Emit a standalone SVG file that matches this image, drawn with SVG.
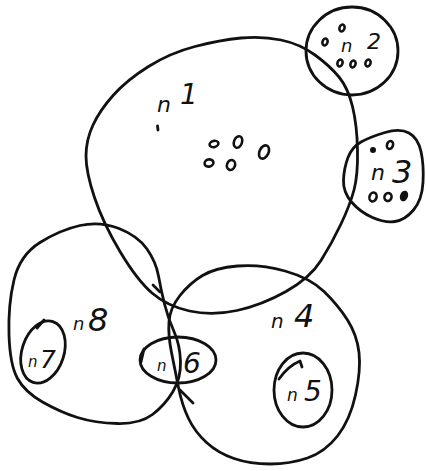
<svg xmlns="http://www.w3.org/2000/svg" width="426" height="471" viewBox="0 0 426 471">
<style>
.ln{fill:none;stroke:#111;stroke-width:2.8;stroke-linecap:round;stroke-linejoin:round}
.o{fill:none;stroke:#111;stroke-width:2.6}
.f{fill:#111;stroke:#111;stroke-width:2}
.t{font-family:"DejaVu Sans",sans-serif;fill:#111;font-style:italic}
</style>
<rect width="426" height="471" fill="#fff"/>
<g id="n1">
<path class="ln" d="M241,38 Q262,36 281,40 Q300,44 315,55 Q330,66 339,77 Q348,88 352.5,106.5 Q357,125 357.5,150 Q358,175 354,190 Q350,205 341,224 Q332,243 321,260.5 Q310,278 286,291.5 Q262,305 237,310.5 Q212,316 189.5,311 Q167,306 152,293 Q137,280 120,251.5 Q103,223 94.5,197.5 Q86,172 86,156 Q86,140 93,125 Q100,110 113.5,95 Q127,80 148.5,66.5 Q170,53 195,46.5 Q220,40 241,38 Z"/>
<text class="t"><tspan x="157" y="112" font-size="22">n</tspan><tspan x="180" y="104" font-size="28">1</tspan></text>
<ellipse class="o" cx="214" cy="144" rx="4.5" ry="3" transform="rotate(-15 214 144)"/>
<ellipse class="o" cx="238" cy="142" rx="4" ry="6" transform="rotate(20 238 142)"/>
<ellipse class="o" cx="209" cy="163" rx="4.5" ry="3.5" transform="rotate(-15 209 163)"/>
<ellipse class="o" cx="231" cy="165" rx="4" ry="5" transform="rotate(20 231 165)"/>
<ellipse class="o" cx="264" cy="152" rx="4.5" ry="7" transform="rotate(25 264 152)"/>
<path class="ln" d="M157.5,126 L158,130"/>
</g>
<g id="n2">
<ellipse class="ln" cx="352" cy="51" rx="46" ry="44"/>
<text class="t"><tspan x="341" y="52" font-size="18">n</tspan><tspan x="367" y="49" font-size="22">2</tspan></text>
<ellipse class="o" cx="325" cy="42" rx="2.5" ry="3.5" transform="rotate(20 325 42)"/>
<ellipse class="o" cx="342" cy="28" rx="2.5" ry="3.5" transform="rotate(20 342 28)"/>
<ellipse class="o" cx="340" cy="63" rx="2.5" ry="3.5" transform="rotate(20 340 63)"/>
<ellipse class="o" cx="353" cy="64" rx="2.5" ry="3.5" transform="rotate(20 353 64)"/>
<ellipse class="o" cx="368" cy="63" rx="2.5" ry="3.5" transform="rotate(20 368 63)"/>
</g>
<g id="n3">
<path class="ln" d="M385,132.5 Q400,128 409,133 Q418,138 421,151.5 Q424,165 423,182.5 Q422,200 413.5,210 Q405,220 395,221.5 Q385,223 372.5,217.5 Q360,212 351.5,202 Q343,192 343.5,180 Q344,168 348,157.5 Q352,147 361,142 Q370,137 385,132.5 Z"/>
<text class="t"><tspan x="371" y="180" font-size="22">n</tspan><tspan x="392" y="183" font-size="32">3</tspan></text>
<circle class="f" cx="373" cy="150" r="2"/>
<ellipse class="o" cx="390" cy="145" rx="3" ry="4" transform="rotate(20 390 145)"/>
<ellipse class="o" cx="373" cy="197" rx="3.5" ry="4.5" transform="rotate(20 373 197)"/>
<ellipse class="o" cx="388" cy="197" rx="3.5" ry="4" transform="rotate(20 388 197)"/>
<ellipse class="f" cx="404" cy="196" rx="3" ry="4.5" transform="rotate(20 404 196)"/>
</g>
<g id="n4">
<path class="ln" d="M180,295.5 Q190,283 202.5,275.5 Q215,268 237.5,266 Q260,264 285,271 Q310,278 324,291.5 Q338,305 347.5,320 Q357,335 359,352.5 Q361,370 355.5,395 Q350,420 337.5,436 Q325,452 307.5,458 Q290,464 270,464 Q250,464 234,458.5 Q218,453 206.5,442.5 Q195,432 188.5,418.5 Q182,405 178.5,387.5 Q175,370 171.5,352.5 Q168,335 169,321.5 Q170,308 180,295.5 Z"/>
<text class="t"><tspan x="271" y="328" font-size="20">n</tspan><tspan x="294" y="327" font-size="32">4</tspan></text>
</g>
<g id="n5">
<ellipse class="ln" cx="303" cy="390" rx="29" ry="37"/>
<path class="ln" d="M279,379 Q288,366 300,361 L302,367"/>
<text class="t"><tspan x="287" y="401" font-size="17">n</tspan><tspan x="304" y="401" font-size="28">5</tspan></text>
</g>
<g id="n6">
<ellipse class="ln" cx="178" cy="360" rx="38" ry="23"/>
<path class="ln" d="M141,362 L144,349"/>
<text class="t"><tspan x="157" y="371" font-size="15">n</tspan><tspan x="183" y="373" font-size="28">6</tspan></text>
</g>
<g id="n7">
<ellipse class="ln" cx="43" cy="352" rx="21" ry="32" transform="rotate(18 43 352)"/>
<path class="ln" d="M37,328 L44,320"/>
<text class="t"><tspan x="28" y="367" font-size="15">n</tspan><tspan x="40" y="368" font-size="25">7</tspan></text>
</g>
<g id="n8">
<path class="ln" d="M80,225.5 Q100,221 119,228.5 Q138,236 147,249 Q156,262 158.5,276 Q161,290 164.5,304 Q168,318 174,331.5 Q180,345 180.5,361.5 Q181,378 173,391.5 Q165,405 152.5,414.5 Q140,424 117.5,423.5 Q95,423 77.5,417.5 Q60,412 42.5,402 Q25,392 17.5,378.5 Q10,365 9,335 Q8,305 14,280 Q20,255 40,242.5 Q60,230 80,225.5 Z"/>
<path class="ln" d="M153,285 L160,292 M180,390 L193,403"/>
<text class="t"><tspan x="73" y="330" font-size="18">n</tspan><tspan x="88" y="331" font-size="32">8</tspan></text>
</g>
</svg>
